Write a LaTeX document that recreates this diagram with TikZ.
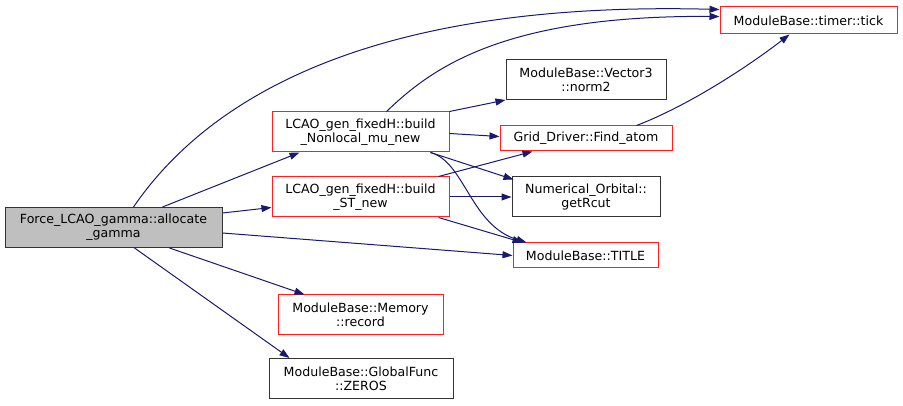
\documentclass[tikz,border=0pt]{standalone}
\usepackage{fontspec}
\setmainfont{DejaVu Sans}
\usetikzlibrary{arrows.meta,calc}
\definecolor{edgec}{HTML}{191970}
\definecolor{redc}{HTML}{FF2020}
\definecolor{grayfill}{HTML}{BFBFBF}
\definecolor{blk}{HTML}{333333}
\begin{document}
\begin{tikzpicture}[x=1pt,y=-1pt,
  font=\fontsize{12.6}{14.3}\selectfont,
  box/.style={draw, line width=1pt, rectangle, align=center, inner sep=0pt, fill=white},
  redbox/.style={box, draw=redc},
  blkbox/.style={box, draw=blk},
  rootbox/.style={box, draw=blk, fill=grayfill},
  edge/.style={draw=edgec, line width=1pt, -{Triangle[length=10pt,width=7pt]}}]
\useasboundingbox (0,0) rectangle (903,406);
% nodes
\node[rootbox, minimum width=217pt, minimum height=40pt] (A) at (113.5,227.5) {Force\_LCAO\_gamma::allocate\\\_gamma};
\node[redbox, minimum width=177pt, minimum height=40pt] (B) at (360.5,132) {LCAO\_gen\_fixedH::build\\\_Nonlocal\_mu\_new};
\node[redbox, minimum width=177pt, minimum height=40pt] (C) at (360.5,197) {LCAO\_gen\_fixedH::build\\\_ST\_new};
\node[redbox, minimum width=177pt, minimum height=27pt] (D) at (808.5,20.5) {ModuleBase::timer::tick};
\node[blkbox, minimum width=160pt, minimum height=40pt] (E) at (586,79.5) {ModuleBase::Vector3\\::norm2};
\node[redbox, minimum width=172pt, minimum height=25pt] (F) at (586,138.5) {Grid\_Driver::Find\_atom};
\node[blkbox, minimum width=148pt, minimum height=40pt] (G) at (586,197) {Numerical\_Orbital::\\getRcut};
\node[redbox, minimum width=145pt, minimum height=25pt] (H) at (585.5,255.5) {ModuleBase::TITLE};
\node[redbox, minimum width=165pt, minimum height=40pt] (I) at (360.5,315) {ModuleBase::Memory\\::record};
\node[blkbox, minimum width=184pt, minimum height=40pt] (J) at (361,378.5) {ModuleBase::GlobalFunc\\::ZEROS};
% edges from A
\draw[edge] ($(A.north west)+(129,0)$) .. controls (200,110) and (350,0) .. ($(D.north west)+(0,3)$);
\draw[edge] ($(A.north west)+(158,0)$) -- ($(B.south west)+(28,0)$);
\draw[edge] ($(A.north east)+(0,6)$) -- ($(C.north west)+(0,31)$);
\draw[edge] ($(A.north east)+(0,26)$) -- (H.west);
\draw[edge] ($(A.south west)+(165,0)$) -- ($(I.north west)+(27,0)$);
\draw[edge] ($(A.south west)+(130,0)$) -- ($(J.north west)+(21,0)$);
% edges from B
\draw[edge] ($(B.north west)+(115,0)$) .. controls (430,70) and (500,15) .. ($(D.north west)+(0,10)$);
\draw[edge] (B.north east) -- (E.south west);
\draw[edge] ($(B.north east)+(0,22)$) -- ($(F.west)+(0,-2)$);
\draw[edge] ($(B.south east)+(-19,0)$) -- ($(G.north west)+(2,3)$);
\draw[edge] ($(B.south east)+(-19,0)$) .. controls (465,162) and (470,225) .. ($(H.north west)+(14,0)$);
% edges from C
\draw[edge] ($(C.north east)+(-11,0)$) -- ($(F.south west)+(33,0)$);
\draw[edge] (C.east) -- (G.west);
\draw[edge] ($(C.south east)+(-11,0)$) -- ($(H.north west)+(10,0)$);
% edge from F
\draw[edge] ($(F.north west)+(137,0)$) .. controls (690,105) and (750,65) .. ($(D.south west)+(70,0)$);
\end{tikzpicture}
\end{document}
